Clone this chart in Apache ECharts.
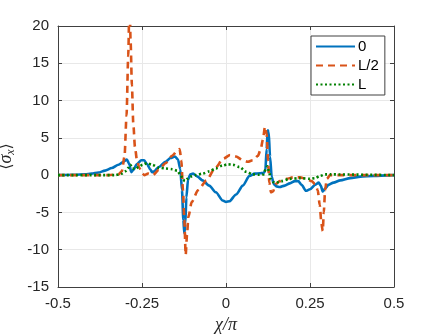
<!DOCTYPE html>
<html>
<head>
<meta charset="utf-8">
<script src="https://cdn.jsdelivr.net/npm/echarts@6/dist/echarts.min.js"></script>
<style>
  html, body { margin: 0; padding: 0; background: #fff; }
  #chart { width: 436px; height: 335px; }
</style>
</head>
<body>
<div id="chart"></div>
<script>
// chi / pi positions and <sigma_x> values
const xBlue = [-0.5, -0.45, -0.42, -0.4, -0.38, -0.36, -0.34, -0.32, -0.305, -0.295, -0.288, -0.282, -0.276, -0.265, -0.252, -0.244, -0.235, -0.226, -0.22, -0.214, -0.2, -0.18, -0.165, -0.152, -0.143, -0.136, -0.131, -0.127, -0.124, -0.121, -0.118, -0.113, -0.106, -0.098, -0.085, -0.07, -0.05, -0.03, -0.01, 0, 0.01, 0.03, 0.05, 0.07, 0.085, 0.1, 0.112, 0.117, 0.121, 0.124, 0.127, 0.131, 0.136, 0.142, 0.15, 0.16, 0.175, 0.19, 0.205, 0.215, 0.225, 0.238, 0.25, 0.265, 0.276, 0.282, 0.288, 0.295, 0.305, 0.32, 0.34, 0.37, 0.4, 0.44, 0.5];
const yBlue = [0, 0.05, 0.12, 0.2, 0.35, 0.6, 0.95, 1.4, 1.8, 2.1, 1.5, 0.4, 0.7, 1.5, 2.0, 2.0, 1.5, 0.8, 0.4, 0.5, 1.1, 1.8, 2.3, 2.5, 2.1, 0.8, -2, -6, -7.8, -6.5, -3, -0.6, 0.1, 0.2, -0.2, -0.7, -1.4, -2.3, -3.4, -3.6, -3.5, -2.6, -1.4, -0.1, 0.2, 0.25, 0.3, 0.6, 3.5, 6.0, 5.8, 2.5, -0.2, -1.2, -1.5, -1.6, -1.4, -1.1, -0.8, -0.8, -1.3, -2.1, -1.9, -1.3, -1.0, -1.4, -2.2, -1.8, -1.3, -1.0, -0.7, -0.4, -0.2, -0.1, 0];

const xOrange = [-0.5, -0.35, -0.32, -0.31, -0.302, -0.296, -0.291, -0.287, -0.284, -0.28, -0.276, -0.271, -0.265, -0.258, -0.25, -0.243, -0.232, -0.218, -0.2, -0.18, -0.16, -0.145, -0.138, -0.133, -0.128, -0.124, -0.12, -0.116, -0.112, -0.102, -0.083, -0.058, -0.033, -0.008, 0.012, 0.03, 0.05, 0.065, 0.08, 0.095, 0.103, 0.11, 0.116, 0.121, 0.125, 0.129, 0.134, 0.14, 0.148, 0.16, 0.18, 0.2, 0.22, 0.24, 0.255, 0.265, 0.273, 0.279, 0.284, 0.288, 0.291, 0.295, 0.3, 0.31, 0.5];
const yOrange = [0, 0, 0.1, 0.5, 2.5, 8, 16, 24, 18, 12, 7, 3.8, 2.0, 1.0, 0.3, 0.0, 0.2, 0.0, 0.7, 1.6, 2.6, 3.3, 3.5, 2.0, -2, -6, -10.7, -8, -5.6, -3.6, -2, -0.7, 0.9, 2.2, 2.7, 2.5, 2.0, 1.8, 2.0, 2.6, 3.4, 4.8, 6.5, 5.5, 2, -1, -2.3, -2.2, -1.2, -0.8, -0.5, -0.3, -0.3, -0.5, -0.8, -1.2, -2, -4, -6.5, -7.5, -5, -2, -0.5, 0, 0];

const xGreen = [-0.5, -0.33, -0.31, -0.3, -0.29, -0.285, -0.278, -0.27, -0.26, -0.248, -0.235, -0.22, -0.2, -0.18, -0.16, -0.145, -0.135, -0.128, -0.122, -0.115, -0.105, -0.09, -0.07, -0.05, -0.03, -0.01, 0.005, 0.02, 0.04, 0.06, 0.08, 0.1, 0.112, 0.118, 0.123, 0.128, 0.133, 0.14, 0.15, 0.165, 0.19, 0.22, 0.25, 0.265, 0.28, 0.295, 0.31, 0.5];
const yGreen = [0, 0, 0.2, 0.5, 1.0, 1.4, 0.9, 0.8, 1.1, 1.4, 1.6, 1.4, 1.0, 0.9, 0.8, 0.6, 0, -0.6, -0.8, -0.5, -0.2, 0.0, 0.2, 0.5, 0.9, 1.3, 1.45, 1.4, 1.1, 0.45, 0.1, 0.05, 0.1, 0.8, 1.2, 0.5, -0.5, -0.9, -1.0, -0.8, -0.5, -0.4, -0.5, -0.4, -0.1, 0.1, 0.1, 0];

const seriesNames = ["0", "L/2", "L"];

const zip = (xs, ys) => xs.map((x, i) => [x, ys[i]]);

const chart = echarts.init(document.getElementById("chart"));

const axisColor = "#404040";
const labelFont = { color: "#262626", fontSize: 15, fontFamily: "Liberation Sans" };

const lineSeries = (name, data, color, type) => ({
  name,
  type: "line",
  data,
  symbol: "none",
  smooth: 0.25,
  smoothMonotone: "x",
  lineStyle: { color, width: 2.6, type },
  itemStyle: { color },
  clip: true,
});

chart.setOption({
  animation: false,
  backgroundColor: "#fff",
  grid: { left: 58, right: 42, top: 26, bottom: 48, containLabel: false, outerBoundsMode: "none" },
  legend: {
    orient: "vertical",
    left: 311,
    top: 36,
    padding: [3, 6, 3, 4],
    itemWidth: 39,
    itemHeight: 15,
    itemGap: 4,
    backgroundColor: "#fff",
    borderColor: axisColor,
    borderWidth: 1,
    borderRadius: 0,
    itemStyle: { opacity: 0 },
    textStyle: { color: "#000", fontSize: 15, fontFamily: "Liberation Sans", padding: [0, 0, 0, -2] },
    data: seriesNames,
  },
  xAxis: [
    {
      type: "value",
      min: -0.5,
      max: 0.5,
      interval: 0.25,
      name: "χ/π",
      nameLocation: "middle",
      nameGap: 26,
      nameTextStyle: { fontFamily: "Liberation Serif", fontStyle: "italic", fontSize: 18, color: "#262626" },
      axisLine: { show: true, onZero: false, lineStyle: { color: axisColor } },
      axisTick: { show: true, inside: true, length: 4, lineStyle: { color: axisColor } },
      axisLabel: Object.assign({ margin: 9, formatter: (v) => String(v) }, labelFont),
      splitLine: { show: true, lineStyle: { color: "#e8e8e8" } },
    },
    {
      type: "value",
      position: "top",
      min: -0.5,
      max: 0.5,
      interval: 0.25,
      axisLine: { show: true, onZero: false, lineStyle: { color: axisColor } },
      axisTick: { show: true, inside: true, length: 4, lineStyle: { color: axisColor } },
      axisLabel: { show: false },
      splitLine: { show: false },
    },
  ],
  yAxis: [
    {
      type: "value",
      min: -15,
      max: 20,
      interval: 5,
      name: "{a|⟨}{s|σ}{b|x}{a|⟩}",
      nameLocation: "middle",
      nameGap: 32,
      nameRotate: 90,
      nameTextStyle: {
        color: "#262626",
        rich: {
          a: { fontFamily: "DejaVu Serif", fontSize: 16, color: "#262626" },
          s: { fontFamily: "Liberation Serif", fontStyle: "italic", fontSize: 18, color: "#262626" },
          b: { fontFamily: "Liberation Serif", fontStyle: "italic", fontSize: 12, color: "#262626", padding: [8, 0, 0, 0] },
        },
      },
      axisLine: { show: true, onZero: false, lineStyle: { color: axisColor } },
      axisTick: { show: true, inside: true, length: 4, lineStyle: { color: axisColor } },
      axisLabel: Object.assign({ margin: 9 }, labelFont),
      splitLine: { show: true, lineStyle: { color: "#e8e8e8" } },
    },
    {
      type: "value",
      position: "right",
      min: -15,
      max: 20,
      interval: 5,
      axisLine: { show: true, onZero: false, lineStyle: { color: axisColor } },
      axisTick: { show: true, inside: true, length: 4, lineStyle: { color: axisColor } },
      axisLabel: { show: false },
      splitLine: { show: false },
    },
  ],
  series: [
    lineSeries(seriesNames[0], zip(xBlue, yBlue), "#0072BD", "solid"),
    lineSeries(seriesNames[1], zip(xOrange, yOrange), "#D95319", [7, 5]),
    lineSeries(seriesNames[2], zip(xGreen, yGreen), "#008000", [2, 2.5]),
  ],
});
</script>
</body>
</html>
